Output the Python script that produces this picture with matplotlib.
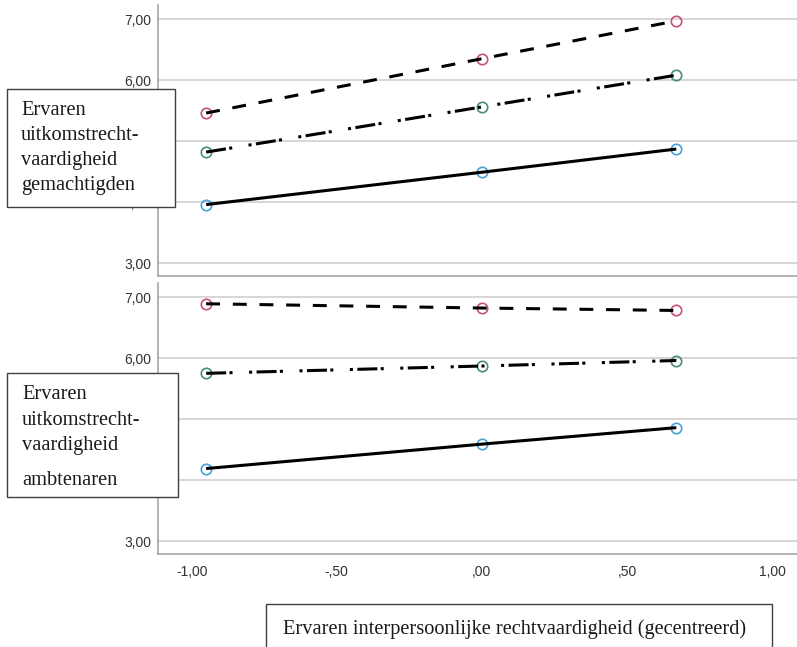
import matplotlib
matplotlib.use("Agg")
import matplotlib.pyplot as plt
from matplotlib.patches import Rectangle

# ---- data ----
x_vals = [-0.95, 0.0, 0.67]
top_dashed = [5.46, 6.35, 6.97]
top_dashdot = [4.82, 5.56, 6.08]
top_solid = [3.96, 4.49, 4.87]
bot_dashed = [6.89, 6.82, 6.78]
bot_dashdot = [5.75, 5.87, 5.96]
bot_solid = [4.19, 4.59, 4.86]
y_ticks = [3, 4, 5, 6, 7]
y_ticklabels = ["3,00", "4,00", "5,00", "6,00", "7,00"]
x_ticks = [-1.0, -0.5, 0.0, 0.5, 1.0]
x_ticklabels = ["-1,00", "-,50", ",00", ",50", "1,00"]
top_label = ["Ervaren", "uitkomstrecht-", "vaardigheid", "gemachtigden"]
bot_label = ["Ervaren", "uitkomstrecht-", "vaardigheid", "ambtenaren"]
x_label = "Ervaren interpersoonlijke rechtvaardigheid (gecentreerd)"

W, H = 797, 647
DPI = 100
plt.rcParams['lines.scale_dashes'] = False
fig = plt.figure(figsize=(W / DPI, H / DPI), dpi=DPI)
fig.patch.set_facecolor("white")

def fx(x):
    return x / W

def fy(y):
    return 1 - y / H

ax_left, ax_right = 158, 797
axes_px = [(5, 276), (283, 554)]
XLIM = (-1.116, 1.086)
YLIM = (2.79, 7.23)

pink = "#c8507e"
teal = "#4a8c7c"
blue = "#45a3d8"
dashed = (0, (10.0, 9.2))
dashdot = (5.4, (2.2, 3.2, 14.4, 2.4, 2.2, 11.9))

axes = []
for (t, b) in axes_px:
    ax = fig.add_axes([fx(ax_left), fy(b), fx(ax_right - ax_left), (b - t) / H])
    ax.set_xlim(*XLIM)
    ax.set_ylim(*YLIM)
    for s in ["top", "right"]:
        ax.spines[s].set_visible(False)
    for s in ["left", "bottom"]:
        ax.spines[s].set_color("#a6a6a6")
        ax.spines[s].set_linewidth(1.2)
    ax.set_yticks(y_ticks)
    ax.set_yticklabels(y_ticklabels, fontsize=10, family="Liberation Sans", color="#333333")
    ax.tick_params(axis="y", length=0, pad=5)
    ax.grid(axis="y", color="#cfcfcf", linewidth=1.2)
    ax.set_axisbelow(True)
    axes.append(ax)

ax_top, ax_bot = axes
ax_top.set_xticks([])
ax_bot.set_xticks(x_ticks)
ax_bot.set_xticklabels(x_ticklabels, fontsize=10, family="Liberation Sans", color="#333333")
ax_bot.tick_params(axis="x", length=0, pad=8)

def draw(ax, d, dd, s):
    for vals, ls, col in [(d, dashed, pink), (dd, dashdot, teal), (s, "-", blue)]:
        ax.plot(x_vals, vals, color="black", linewidth=2.2, linestyle=ls, zorder=4,
                dash_capstyle="butt", solid_capstyle="butt")
        ax.plot(x_vals, vals, linestyle="none", marker="o", markersize=7.5,
                markerfacecolor="none", markeredgecolor=col, markeredgewidth=1.2, zorder=3)

draw(ax_top, top_dashed, top_dashdot, top_solid)
draw(ax_bot, bot_dashed, bot_dashdot, bot_solid)

# ---- boxes ----
def box(x0, y0, x1, y1):
    fig.patches.append(Rectangle((fx(x0), fy(y1)), fx(x1 - x0), (y1 - y0) / H,
                                 transform=fig.transFigure, facecolor="white",
                                 edgecolor="#404040", linewidth=1.0, zorder=10))

serif = "Liberation Serif"
FS = 14.7
box(7, 89, 175, 207)
for line, yb in zip(top_label, [115, 140, 165, 190]):
    fig.text(fx(21), fy(yb), line, fontsize=FS, family=serif, color="#1a1a1a",
             ha="left", va="baseline", zorder=11)

box(7, 373, 178, 497)
for line, yb in zip(bot_label, [399, 425, 450, 485]):
    fig.text(fx(22), fy(yb), line, fontsize=FS, family=serif, color="#1a1a1a",
             ha="left", va="baseline", zorder=11)

box(266, 604, 772, 660)
fig.text(fx(283), fy(634), x_label, fontsize=FS, family=serif, color="#1a1a1a",
         ha="left", va="baseline", zorder=11)

fig.savefig("out.png", dpi=DPI, facecolor="white")
